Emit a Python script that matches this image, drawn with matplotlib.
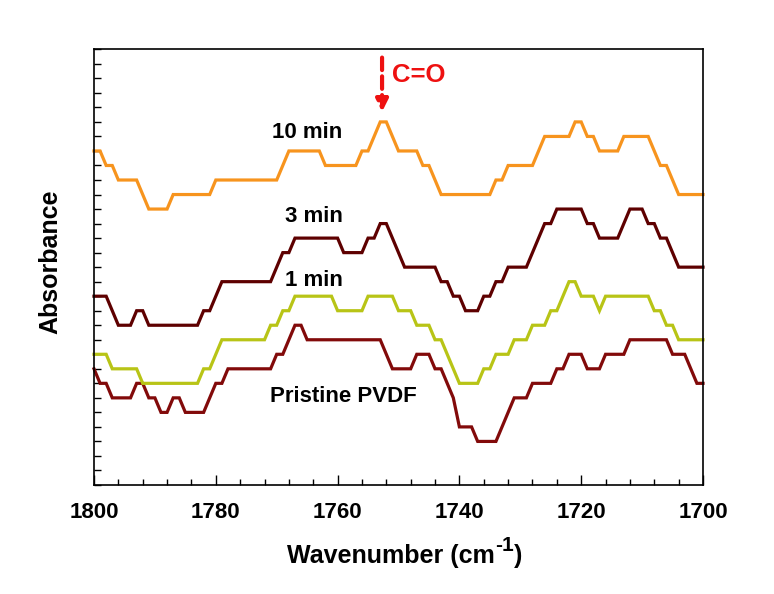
import matplotlib
matplotlib.use("Agg")
import matplotlib.pyplot as plt
from matplotlib.ticker import MultipleLocator, NullFormatter

plt.rcParams['font.family'] = ['Liberation Sans', 'DejaVu Sans']
plt.rcParams['font.weight'] = 'bold'

# ---- data (wavenumber, absorbance in tick units) ----
wn_10 = [1800, 1799, 1798, 1797, 1796, 1793, 1791, 1788, 1787, 1781, 1780, 1770, 1768, 1763,
         1762, 1757, 1756, 1755, 1753, 1752, 1750, 1747, 1746, 1745, 1743, 1735, 1734, 1733,
         1732, 1728, 1726, 1722, 1721, 1720, 1719, 1718, 1717, 1714, 1713, 1709, 1707, 1706,
         1704, 1700]
ab_10 = [23, 23, 22, 22, 21, 21, 19, 19, 20, 20, 21, 21, 23, 23,
         22, 22, 23, 23, 25, 25, 23, 23, 22, 22, 20, 20, 21, 21,
         22, 22, 24, 24, 25, 25, 24, 24, 23, 23, 24, 24, 22, 22,
         20, 20]

wn_3 = [1800, 1798, 1796, 1794, 1793, 1792, 1791, 1783, 1782, 1781, 1779, 1771, 1769, 1768,
        1767, 1760, 1759, 1756, 1755, 1754, 1753, 1752, 1749, 1744, 1743, 1742, 1741, 1740,
        1739, 1737, 1736, 1735, 1734, 1733, 1732, 1729, 1726, 1725, 1724, 1720, 1719, 1718,
        1717, 1714, 1712, 1710, 1709, 1708, 1707, 1706, 1704, 1700]
ab_3 = [13, 13, 11, 11, 12, 12, 11, 11, 12, 12, 14, 14, 16, 16,
        17, 17, 16, 16, 17, 17, 18, 18, 15, 15, 14, 14, 13, 13,
        12, 12, 13, 13, 14, 14, 15, 15, 18, 18, 19, 19, 18, 18,
        17, 17, 19, 19, 18, 18, 17, 17, 15, 15]

wn_1 = [1800, 1798, 1797, 1793, 1792, 1783, 1782, 1781, 1779, 1772, 1771, 1770, 1769, 1768,
        1767, 1761, 1760, 1756, 1755, 1751, 1750, 1748, 1747, 1745, 1744, 1743, 1740, 1737,
        1736, 1735, 1734, 1732, 1731, 1729, 1728, 1726, 1725, 1724, 1722, 1721, 1720, 1718,
        1717, 1716, 1709, 1708, 1707, 1706, 1705, 1704, 1700]
ab_1 = [9, 9, 8, 8, 7, 7, 8, 8, 10, 10, 11, 11, 12, 12,
        13, 13, 12, 12, 13, 13, 12, 12, 11, 11, 10, 10, 7, 7,
        8, 8, 9, 9, 10, 10, 11, 11, 12, 12, 14, 14, 13, 13,
        12, 13, 13, 12, 12, 11, 11, 10, 10]

wn_p = [1800, 1799, 1798, 1797, 1794, 1793, 1792, 1791, 1790, 1789, 1788, 1787, 1786, 1785,
        1782, 1780, 1779, 1778, 1771, 1770, 1769, 1767, 1766, 1765, 1753, 1751, 1748, 1747,
        1745, 1744, 1743, 1741, 1740, 1738, 1737, 1734, 1731, 1729, 1728, 1725, 1724, 1723,
        1722, 1720, 1719, 1717, 1716, 1713, 1712, 1706, 1705, 1703, 1701, 1700]
ab_p = [8, 7, 7, 6, 6, 7, 7, 6, 6, 5, 5, 6, 6, 5,
        5, 7, 7, 8, 8, 9, 9, 11, 11, 10, 10, 8, 8, 9,
        9, 8, 8, 6, 4, 4, 3, 3, 6, 6, 7, 7, 8, 8,
        9, 9, 8, 8, 9, 9, 10, 10, 9, 9, 7, 7]

labels = ["10 min", "3 min", "1 min", "Pristine PVDF"]
colors = ["#F7941E", "#5E0000", "#B8C416", "#820A0A"]

W, H = 774, 594
fig = plt.figure(figsize=(W / 100, H / 100), dpi=100)
ax = fig.add_axes([94 / W, 1 - 485 / H, (703 - 94) / W, (485 - 49.3) / H])

for wn, ab, c in zip([wn_p, wn_1, wn_3, wn_10], [ab_p, ab_1, ab_3, ab_10],
                     [colors[3], colors[2], colors[1], colors[0]]):
    ax.plot(wn, ab, color=c, lw=2.3, solid_joinstyle='miter', clip_on=False)

ax.set_xlim(1800, 1700)
ax.set_ylim(0, 30)

ax.xaxis.set_major_locator(MultipleLocator(20))
ax.xaxis.set_minor_locator(MultipleLocator(4))
ax.yaxis.set_major_locator(MultipleLocator(1))
ax.yaxis.set_major_formatter(NullFormatter())
ax.tick_params(axis='x', which='major', direction='in', length=7, width=1, labelsize=16, pad=12)
ax.tick_params(axis='x', which='minor', direction='in', length=4, width=1)
ax.tick_params(axis='y', which='major', direction='in', length=5, width=1)
for lab in ax.get_xticklabels():
    lab.set_fontweight('bold')
for s in ax.spines.values():
    s.set_linewidth(1.2)

ax.set_ylabel("Absorbance", fontsize=18, fontweight='bold')
ax.yaxis.set_label_coords((62 - 94) / 609, (485 - 261.5) / 435.7)

# x label built from parts so that the superscript uses a plain hyphen
fig.canvas.draw()
renderer = fig.canvas.get_renderer()
base_px = H - 563
fs_main, fs_sup = 18, 15
t1 = fig.text(0, base_px / H, "Wavenumber (cm", fontsize=fs_main, fontweight='bold', ha='left', va='baseline')
t2 = fig.text(0, (base_px + 12) / H, "-1", fontsize=fs_sup, fontweight='bold', ha='left', va='baseline')
t3 = fig.text(0, base_px / H, ")", fontsize=fs_main, fontweight='bold', ha='left', va='baseline')
w1 = t1.get_window_extent(renderer).width
w2 = t2.get_window_extent(renderer).width
w3 = t3.get_window_extent(renderer).width
total = w1 + w2 + 1 + w3
x0 = 404.5 - total / 2
t1.set_x(x0 / W)
t2.set_x((x0 + w1 + 0.5) / W)
t3.set_x((x0 + w1 + w2 + 1) / W)

# series labels
ax.text(1765.0, 24.25, labels[0], fontsize=16, fontweight='bold', ha='center', va='center')
ax.text(1763.9, 18.5, labels[1], fontsize=16, fontweight='bold', ha='center', va='center')
ax.text(1763.9, 14.07, labels[2], fontsize=16, fontweight='bold', ha='center', va='center')
ax.text(1759.1, 6.08, labels[3], fontsize=16, fontweight='bold', ha='center', va='center')

# C=O annotation
ax.annotate("", xy=(1752.7, 25.7), xytext=(1752.7, 29.43),
            arrowprops=dict(arrowstyle='-|>', color='#EE1111', lw=3, linestyle=(0, (3, 1.5)),
                            mutation_scale=18, shrinkA=0, shrinkB=0))
ax.text(1751.1, 28.24, "C=O", color='#EE1111', fontsize=18.5, fontweight='bold', ha='left', va='center')

fig.savefig("out.png", dpi=100)
